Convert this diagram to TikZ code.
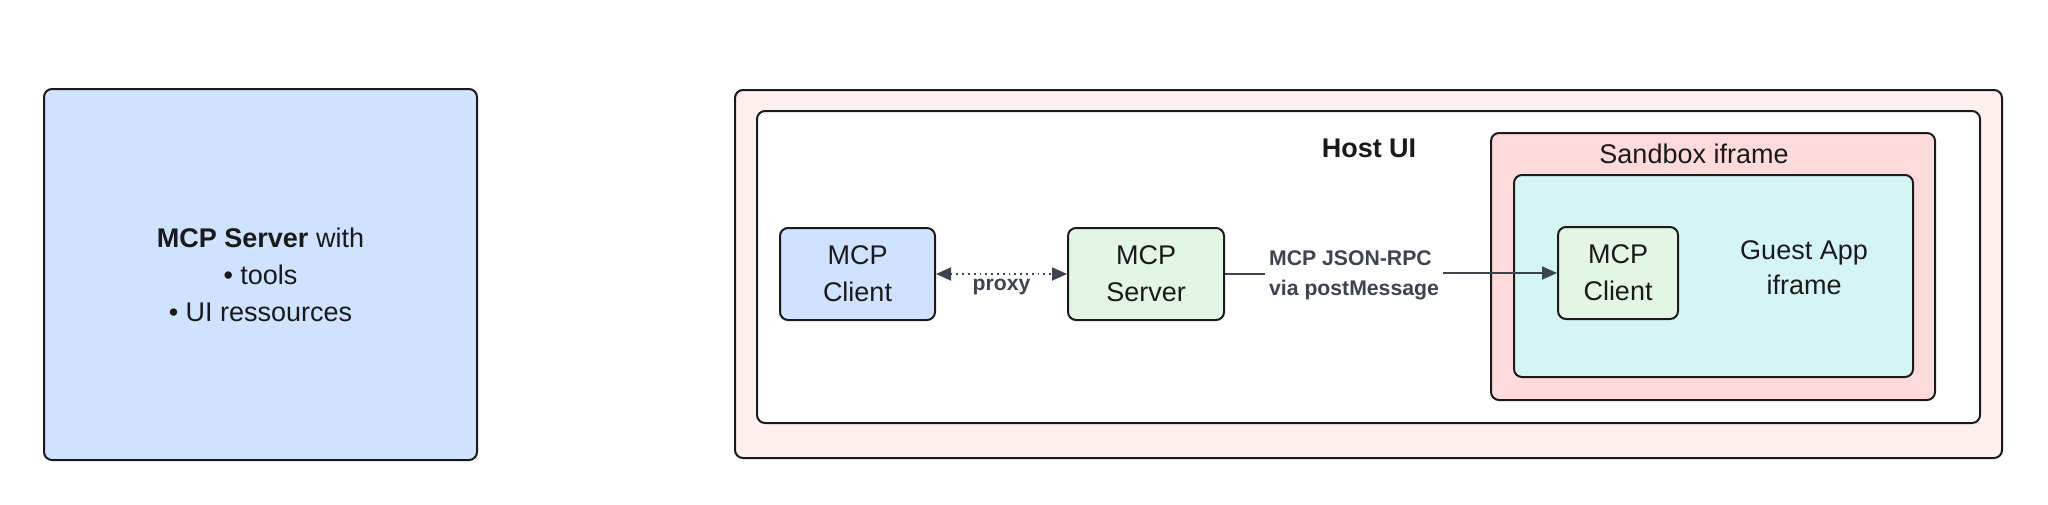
\documentclass[tikz,border=0pt]{standalone}
\usepackage{fontspec}
\setmainfont{Liberation Sans}
\usetikzlibrary{arrows.meta}
\definecolor{serverblue}{HTML}{CFE2FF}
\definecolor{clientgreen}{HTML}{E3F6E3}
\definecolor{hostpink}{HTML}{FFF0F0}
\definecolor{sandboxpink}{HTML}{FFDADA}
\definecolor{guestcyan}{HTML}{D5F5F5}
\definecolor{edgeblack}{HTML}{1A1A1A}
\definecolor{linkgray}{HTML}{3E4350}
\tikzset{
  box/.style={rectangle, draw=edgeblack, line width=1pt, rounded corners=4pt, inner sep=0pt, align=center, text=edgeblack, font=\fontsize{13.5}{18.5}\selectfont},
  mcpbox/.style={box, minimum width=#1, minimum height=46pt},
  title/.style={text=edgeblack, align=center, font=\fontsize{13.5}{17.5}\selectfont},
  link/.style={draw=linkgray, line width=0.9pt, -{Triangle[length=7.5pt,width=6.5pt]}},
  linklabel/.style={font=\bfseries\fontsize{10.6}{15}\selectfont, text=linkgray, align=left, inner sep=2pt},
}

\begin{document}
\begin{tikzpicture}[x=0.5pt, y=-0.5pt]
\useasboundingbox (0,0) rectangle (2048,504);
% MCP server on the left
\node[box, fill=serverblue, minimum width=216.5pt, minimum height=185.5pt] (mcpsrv) at (260.5,274.5) {\textbf{MCP Server} with\\ • tools\\ • UI ressources};

% nested containers
\node[box, fill=hostpink, minimum width=633.5pt, minimum height=184pt] (host) at (1368.5,274) {};
\node[box, fill=white, minimum width=611.5pt, minimum height=156pt] (hostui) at (1368.5,267) {};
\node[box, fill=sandboxpink, minimum width=222pt, minimum height=133.5pt] (sandbox) at (1713,266.5) {};
\node[box, fill=guestcyan, minimum width=199.5pt, minimum height=101pt] (guest) at (1713.5,276) {};

\node[title, font=\bfseries\fontsize{13.5}{17.5}\selectfont] (hostlbl) at (1369,148) {Host UI};
\node[title] (sandboxlbl) at (1694,154) {Sandbox iframe};
\node[title] (guestlbl) at (1804,268) {Guest App\\iframe};

% inner boxes
\node[mcpbox=77.5pt, fill=serverblue] (hclient) at (857.5,274) {MCP\\Client};
\node[mcpbox=78pt, fill=clientgreen] (server) at (1146,274) {MCP\\Server};
\node[mcpbox=60pt, fill=clientgreen] (gclient) at (1618,273) {MCP\\Client};

% connectors
\draw[link, dotted, {Triangle[length=7.5pt,width=6.5pt]}-{Triangle[length=7.5pt,width=6.5pt]}] (hclient) -- node[linklabel, below] {proxy} (server);
\node[linklabel] (rpc) at (1354,275) {MCP JSON-RPC\\via postMessage};
\draw[link, -] (server) -- (server -| rpc.west);
\draw[link] (rpc.east |- gclient) -- (gclient);
\end{tikzpicture}
\end{document}
